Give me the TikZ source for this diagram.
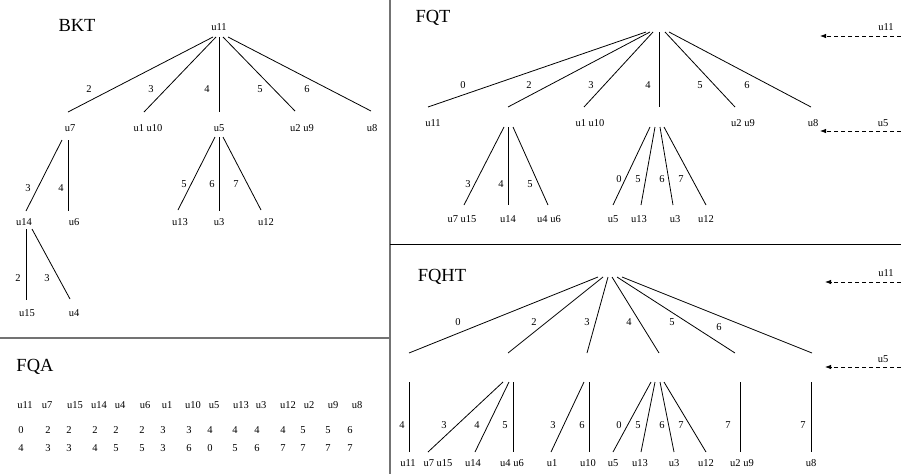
\documentclass[tikz,border=0pt]{standalone}
\usepackage{fontspec}
\setmainfont{Liberation Serif}
\usetikzlibrary{arrows.meta}
\begin{document}
\begin{tikzpicture}[x=1pt,y=-1pt,
  lbl/.style={inner sep=0pt,font=\fontsize{10.5}{12}\selectfont},
  ttl/.style={inner sep=0pt,font=\fontsize{18.5}{20}\selectfont},
  edge/.style={line width=0.8pt},
  darr/.style={line width=0.8pt,dash pattern=on 4pt off 3pt,-{Latex[length=6pt,width=4.5pt]}},
  divider/.style={line width=1.3pt,draw=black!55},
  hdivider/.style={line width=1pt,draw=black}]
\useasboundingbox (0,0) rectangle (901,474);
% ---------------- coordinates
\foreach \n/\a/\b in {
  d1/390/0, d2/390/474, d3/0/338, d4/390/338, d5/390/244, d6/901/244,
  br1/213/37, br2/216/37, br3/219/37, br4/223/37, br5/228/37,
  be1/68/112, be2/144/112, be3/219/112, be4/295/111, be5/371/111,
  bs6/62/140, be6/26/211, bs7/68/140, be7/68/211,
  bs8/215/137, be8/178/210, bs9/219/137, be9/219/211, bs10/223/137, be10/261/210,
  bs11/26/229, be11/26/300, bs12/32/229, be12/70/299,
  qs1/646/32, qs2/650/32, qs3/653/32, qs4/659/32, qs5/665/32, qs6/669/32,
  qe1/428/107, qe2/508/107, qe3/584/107, qe4/659/107, qe5/735/107, qe6/811/107,
  qs7/504/127, qe7/464/205, qs8/508/127, qe8/508/205, qs9/513/127, qe9/548/205,
  qs10/650/127, qe10/613/205, qs11/655/127, qe11/641/205, qs12/660/127, qe12/673/205,
  qs13/664/127, qe13/706/205,
  hs1/598/277, hs2/603/277, hs3/608/277, hs4/612/277, hs5/617/277, hs6/622/277,
  he1/409/353, he2/508/353, he3/587/353, he4/659/353, he5/735/353, he6/812/353,
  hs7/409/382, he7/409/452, hs8/503/382, he8/428/452, hs9/509/382, he9/475/452,
  hs10/513/382, he10/513/452, hs11/584/382, he11/551/452, hs12/589/382, he12/589/452,
  hs13/651/382, he13/613/452, hs14/655/382, he14/641/452, hs15/660/382, he15/674/452,
  hs16/664/382, he16/706/452, hs17/740/382, he17/740/452, hs18/811/382, he18/811/452,
  a1s/901/36, a1e/820/36, a2s/901/131, a2e/820/131,
  a3s/901/282, a3e/825/282, a4s/901/367, a4e/825/367}
  {\coordinate (\n) at (\a,\b);}
% ---------------- dividers
\draw[divider] (d1) -- (d2);
\draw[divider] (d3) -- (d4);
\draw[hdivider] (d5) -- (d6);
% ---------------- edges
\foreach \s/\e in {br1/be1, br2/be2, br3/be3, br4/be4, br5/be5, bs6/be6, bs7/be7,
  bs8/be8, bs9/be9, bs10/be10, bs11/be11, bs12/be12,
  qs1/qe1, qs2/qe2, qs3/qe3, qs4/qe4, qs5/qe5, qs6/qe6, qs7/qe7, qs8/qe8, qs9/qe9,
  qs10/qe10, qs11/qe11, qs12/qe12, qs13/qe13,
  hs1/he1, hs2/he2, hs3/he3, hs4/he4, hs5/he5, hs6/he6, hs7/he7, hs8/he8, hs9/he9,
  hs10/he10, hs11/he11, hs12/he12, hs13/he13, hs14/he14, hs15/he15, hs16/he16,
  hs17/he17, hs18/he18}
  {\draw[edge] (\s) -- (\e);}
\foreach \s/\e in {a1s/a1e, a2s/a2e, a3s/a3e, a4s/a4e}
  {\draw[darr] (\s) -- (\e);}
% ---------------- titles
\node[ttl] (tbkt) at (77,25) {BKT};
\node[ttl] (tfqt) at (433,18) {FQT};
\node[ttl] (tfqht) at (442,277) {FQHT};
\node[ttl] (tfqa) at (35,367) {FQA};
% ---------------- BKT labels
\foreach \n/\x/\y/\t in {
  b1/219/27/u11, b2/70/128/u7, b3/148/128/u1 u10, b4/219/128/u5, b5/302/128/u2 u9,
  b6/372/128/u8, b7/24/222/u14, b8/74/222/u6, b9/180/222/u13, b10/219/222/u3,
  b11/266/222/u12, b12/27/313/u15, b13/74/313/u4,
  bl1/89/89/2, bl2/151/89/3, bl3/207/89/4, bl4/260/89/5, bl5/307/89/6,
  bl6/28/188/3, bl7/61/188/4, bl8/184/184/5, bl9/212/184/6, bl10/236/184/7,
  bl11/18/278/2, bl12/47/278/3}
  {\node[lbl] (\n) at (\x,\y) {\t};}
% ---------------- FQT labels
\foreach \n/\x/\y/\t in {
  q1/433/123/u11, q2/590/123/u1 u10, q3/743/123/u2 u9, q4/813/123/u8,
  q5/462/219/u7 u15, q6/508/219/u14, q7/549/219/u4 u6, q8/613/219/u5,
  q9/639/219/u13, q10/675/219/u3, q11/706/219/u12,
  q12/886/27/u11, q13/883/123/u5,
  ql1/463/85/0, ql2/529/85/2, ql3/591/85/3, ql4/648/85/4, ql5/700/85/5, ql6/747/85/6,
  ql7/468/184/3, ql8/501/184/4, ql9/530/184/5,
  ql10/619/179/0, ql11/638/179/5, ql12/662/179/6, ql13/681/179/7}
  {\node[lbl] (\n) at (\x,\y) {\t};}
% ---------------- FQHT labels
\foreach \n/\x/\y/\t in {
  h1/408/463/u11, h2/438/463/u7 u15, h3/473/463/u14, h4/512/463/u4 u6,
  h5/552/463/u1, h6/588/463/u10, h7/613/463/u5, h8/640/463/u13, h9/674/463/u3,
  h10/706/463/u12, h11/742/463/u2 u9, h12/811/463/u8,
  h13/886/273/u11, h14/883/359/u5,
  hl1/458/322/0, hl2/534/322/2, hl3/587/322/3, hl4/629/322/4, hl5/672/322/5, hl6/719/327/6,
  hl7/402/425/4, hl8/444/425/3, hl9/477/425/4, hl10/505/425/5, hl11/553/425/3,
  hl12/582/425/6, hl13/619/425/0, hl14/638/425/5, hl15/662/425/6, hl16/681/425/7,
  hl17/728/425/7, hl18/803/425/7}
  {\node[lbl] (\n) at (\x,\y) {\t};}
% ---------------- FQA table
\foreach \n/\x/\t in {a1/25/u11, a2/47/u7, a3/75/u15, a4/99/u14, a5/120/u4, a6/145/u6,
  a7/167/u1, a8/193/u10, a9/214/u5, a10/241/u13, a11/261/u3, a12/288/u12,
  a13/309/u2, a14/333/u9, a15/357/u8}
  {\node[lbl] (\n) at (\x,405) {\t};}
\foreach \n/\x/\t/\s in {1/21/0/4, 2/48/2/3, 3/69/2/3, 4/95/2/4, 5/116/2/5, 6/142/2/5,
  7/163/3/3, 8/189/3/6, 9/210/4/0, 10/235/4/5, 11/257/4/6, 12/283/4/7,
  13/303/5/7, 14/328/5/7, 15/350/6/7}
  {\node[lbl] (r\n) at (\x,430) {\t};
   \node[lbl] (s\n) at (\x,448) {\s};}
\end{tikzpicture}
\end{document}
